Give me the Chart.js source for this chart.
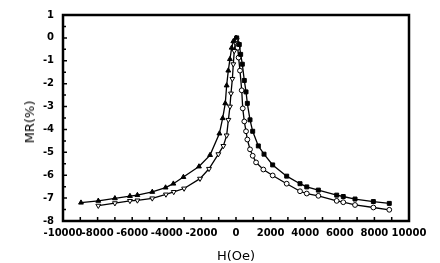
<!DOCTYPE html>
<html>
<head>
<meta charset="utf-8">
<script src="https://cdn.jsdelivr.net/npm/chart.js@4/dist/chart.umd.min.js"></script>
<style>
  html, body { margin: 0; padding: 0; background: #fff; }
  #wrap { width: 440px; height: 263px; position: relative; }
  .axis-title { position: absolute; font: 13px 'DejaVu Sans', sans-serif; color: #000; white-space: nowrap; line-height: 16px; }
  #yTitle { left: 30px; top: 122px; transform: translate(-50%, -50%) rotate(-90deg); }
  #xTitle { left: 236px; top: 256px; transform: translate(-50%, -50%); }
</style>
</head>
<body>
<div id="wrap">
  <canvas id="mrChart" width="440" height="263"></canvas>
  <div class="axis-title" id="yTitle"></div>
  <div class="axis-title" id="xTitle"></div>
</div>
<script>
window.onerror = function (m) { console.log('error: ' + m); };

let xTitle = 'H(Oe)';
let yTitle = 'MR(%)';

// filled up-triangles, left branch (upper curve)
let triUpH  = [-8960, -7960, -7000, -6130, -5700, -4840, -4070, -3620, -3040, -2140, -1500, -960, -770, -620, -540, -445, -350, -250, -156, 0];
let triUpMR = [-7.20, -7.12, -7.01, -6.91, -6.87, -6.73, -6.54, -6.37, -6.08, -5.62, -5.12, -4.18, -3.51, -2.86, -2.08, -1.43, -0.93, -0.43, -0.15, 0];

// open down-triangles, left branch (lower curve)
let triDnH  = [-7960, -7000, -6130, -5700, -4840, -4050, -3600, -3000, -2080, -1560, -1020, -730, -540, -440, -350, -290, -210, -156, -100, -40, 40];
let triDnMR = [-7.33, -7.22, -7.12, -7.10, -7.01, -6.84, -6.73, -6.58, -6.15, -5.72, -5.08, -4.72, -4.26, -3.58, -3.00, -2.43, -1.79, -1.15, -0.57, -0.21, -0.07];

// filled squares, right branch (upper curve)
let sqH  = [40, 190, 270, 365, 480, 580, 655, 810, 965, 1290, 1620, 2120, 2930, 3700, 4090, 4760, 5820, 6200, 6880, 7940, 8860];
let sqMR = [0, -0.29, -0.72, -1.15, -1.86, -2.36, -2.86, -3.58, -4.08, -4.72, -5.08, -5.55, -6.04, -6.37, -6.51, -6.65, -6.87, -6.93, -7.04, -7.15, -7.23];

// open circles, right branch (lower curve)
let circH  = [60, 100, 150, 230, 330, 390, 480, 580, 655, 810, 965, 1160, 1580, 2120, 2930, 3700, 4090, 4760, 5820, 6200, 6880, 7940, 8860];
let circMR = [-0.21, -0.43, -0.86, -1.43, -2.29, -3.08, -3.65, -4.08, -4.44, -4.87, -5.15, -5.44, -5.75, -6.01, -6.37, -6.70, -6.80, -6.90, -7.12, -7.18, -7.30, -7.41, -7.51];

function pts(xs, ys) {
    return xs.map((x, i) => ({ x: x, y: ys[i] }));
}

function series(xs, ys, style, filled, radius, rot) {
    return {
        data: pts(xs, ys),
        showLine: true,
        borderColor: '#000',
        borderWidth: 1.3,
        pointStyle: style,
        pointRotation: rot || 0,
        pointRadius: radius,
        pointBorderWidth: 1,
        pointBorderColor: '#000',
        pointBackgroundColor: filled ? '#000' : '#fff',
        tension: 0
    };
}

// label only every n-th step, tolerant of float noise
function everyNth(step) {
    return v => {
        let r = Math.round(v / step) * step;
        return Math.abs(r - v) < 1e-6 ? String(Math.round(r)) : '';
    };
}

// box, inward tick marks, then the axis titles once the canvas is drawn
const boxFrame = {
    id: 'boxFrame',
    afterDraw(chart) {
        const ctx = chart.ctx;
        const a = chart.chartArea;
        const x = chart.scales.x;
        const y = chart.scales.y;
        ctx.save();
        ctx.strokeStyle = '#000';
        ctx.lineWidth = 1.5;
        ctx.beginPath();
        x.ticks.forEach((t, i) => {
            let px = x.getPixelForTick(i);
            ctx.moveTo(px, a.bottom);
            ctx.lineTo(px, a.bottom - 4);
        });
        y.ticks.forEach((t, i) => {
            let py = y.getPixelForTick(i);
            ctx.moveTo(a.left, py);
            ctx.lineTo(a.left + (t.label ? 4 : 3), py);
        });
        ctx.stroke();
        ctx.lineWidth = 2.5;
        ctx.strokeRect(a.left, a.top, a.right - a.left, a.bottom - a.top);
        ctx.restore();
        document.getElementById('xTitle').textContent = xTitle;
        document.getElementById('yTitle').textContent = yTitle;
    }
};

let tickFont = { family: "'DejaVu Sans', sans-serif", size: 10, weight: 'bold' };
let noGrid = { display: true, drawOnChartArea: false, drawTicks: false };

let mrChart = new Chart(document.getElementById('mrChart').getContext('2d'), {
    type: 'scatter',
    data: {
        datasets: [
            series(triUpH, triUpMR, 'triangle', true, 2.8),
            series(triDnH, triDnMR, 'triangle', false, 2.8, 180),
            series(sqH, sqMR, 'rect', true, 2.8),
            series(circH, circMR, 'circle', false, 2.4)
        ]
    },
    options: {
        responsive: false,
        animation: false,
        layout: { padding: { left: 0, right: 31, top: 7, bottom: 0 } },
        plugins: {
            legend: { display: false },
            tooltip: { enabled: false }
        },
        scales: {
            x: {
                type: 'linear',
                min: -10000,
                max: 10000,
                afterFit(s) { s.height = 42; },
                border: { display: false },
                grid: noGrid,
                ticks: {
                    stepSize: 1000,
                    autoSkip: false,
                    maxRotation: 0,
                    padding: 6,
                    color: '#000',
                    font: tickFont,
                    callback: everyNth(2000)
                }
            },
            y: {
                type: 'linear',
                min: -8,
                max: 1,
                afterFit(s) { s.width = 63; },
                border: { display: false },
                grid: noGrid,
                ticks: {
                    stepSize: 0.5,
                    autoSkip: false,
                    padding: 9,
                    color: '#000',
                    font: tickFont,
                    callback: everyNth(1)
                }
            }
        }
    },
    plugins: [boxFrame]
});
</script>
</body>
</html>
